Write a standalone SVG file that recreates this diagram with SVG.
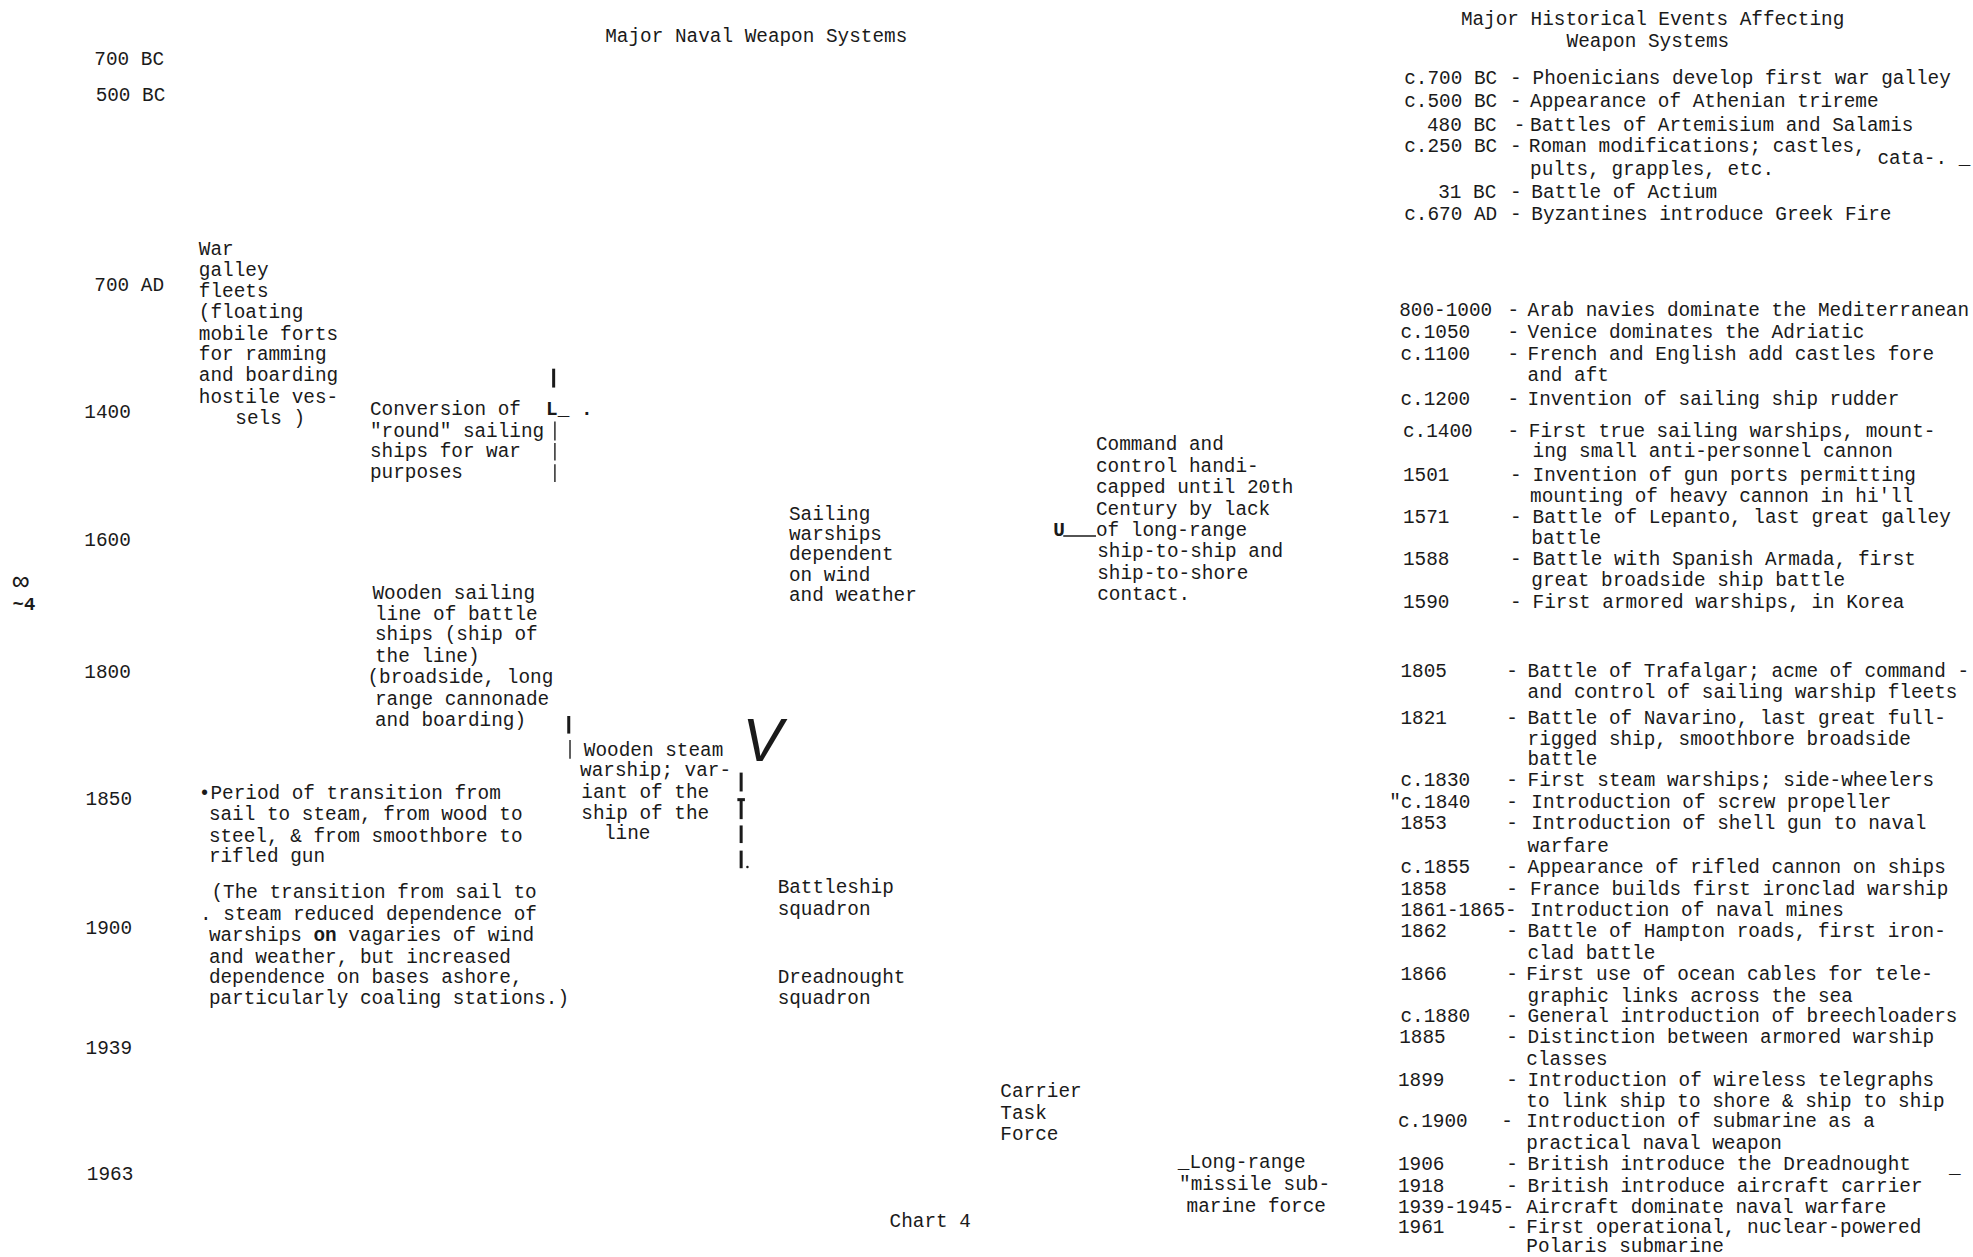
<svg xmlns="http://www.w3.org/2000/svg" width="1973" height="1257" viewBox="0 0 1973 1257">
<style>
text{font-family:"Liberation Mono","Courier New",monospace;font-size:15.4px;fill:#1a1a1a}
.b{font-weight:bold}
.big{font-family:"Liberation Sans",Arial,sans-serif;font-style:italic;font-size:48px}
.ln{stroke:#1a1a1a;stroke-width:1.1;fill:none}
.lb{stroke:#1a1a1a;stroke-width:2.4;fill:none}
</style>
<rect width="1973" height="1257" fill="#fff"/>
<g transform="scale(1.2583)">
<g id="titles">
<text x="481" y="33">Major Naval Weapon Systems</text>
<text x="1161" y="20">Major Historical Events Affecting</text>
<text x="1245" y="37">Weapon Systems</text>
<text x="707" y="975">Chart 4</text>
</g>
<g id="years">
<text x="75" y="52">700 BC</text>
<text x="76" y="80">500 BC</text>
<text x="75" y="231">700 AD</text>
<text x="67" y="332">1400</text>
<text x="67" y="434">1600</text>
<text x="67" y="539">1800</text>
<text x="68" y="640">1850</text>
<text x="68" y="742">1900</text>
<text x="68" y="838">1939</text>
<text x="69" y="938">1963</text>
</g>
<g id="pagemark">
<text x="10" y="469" style="font-size:22px">∞</text>
<text x="10" y="485" style="font-size:15px" class="b">~4</text>
</g>
<g id="galley">
<text x="158" y="203">War</text>
<text x="158" y="219">galley</text>
<text x="158" y="236">fleets</text>
<text x="158" y="253">(floating</text>
<text x="158" y="270">mobile forts</text>
<text x="158" y="286">for ramming</text>
<text x="158" y="303">and boarding</text>
<text x="158" y="320">hostile ves-</text>
<text x="187" y="337">sels )</text>
</g>
<g id="conversion">
<text x="294" y="330">Conversion of</text>
<text x="294" y="347">"round" sailing</text>
<text x="294" y="363">ships for war</text>
<text x="294" y="380">purposes</text>
<text x="434" y="330" class="b">L_ .</text>
</g>
<g id="wooden-sailing">
<text x="296" y="476">Wooden sailing</text>
<text x="298" y="493">line of battle</text>
<text x="298" y="509">ships (ship of</text>
<text x="298" y="526">the line)</text>
<text x="292" y="543">(broadside, long</text>
<text x="298" y="560">range cannonade</text>
<text x="298" y="577">and boarding)</text>
</g>
<g id="wooden-steam">
<text x="464" y="601">Wooden steam</text>
<text x="461" y="617">warship; var-</text>
<text x="462" y="634">iant of the</text>
<text x="462" y="651">ship of the</text>
<text x="480" y="667">line</text>
</g>
<g id="sailing-warships">
<text x="627" y="413">Sailing</text>
<text x="627" y="429">warships</text>
<text x="627" y="445">dependent</text>
<text x="627" y="462">on wind</text>
<text x="627" y="478">and weather</text>
</g>
<g id="command">
<text x="871" y="358">Command and</text>
<text x="871" y="375">control handi-</text>
<text x="871" y="392">capped until 20th</text>
<text x="871" y="409">Century by lack</text>
<text x="871" y="426">of long-range</text>
<text x="872" y="443">ship-to-ship and</text>
<text x="872" y="460">ship-to-shore</text>
<text x="872" y="477">contact.</text>
<text x="837" y="426" class="b">U</text>
</g>
<g id="transition">
<text x="158" y="635">•Period of transition from</text>
<text x="166" y="652">sail to steam, from wood to</text>
<text x="166" y="669">steel, &amp; from smoothbore to</text>
<text x="166" y="685">rifled gun</text>
</g>
<g id="transition-note">
<text x="168" y="714">(The transition from sail to</text>
<text x="159" y="731">. steam reduced dependence of</text>
<text x="166" y="748">warships <tspan class="b">on</tspan> vagaries of wind</text>
<text x="166" y="765">and weather, but increased</text>
<text x="166" y="781">dependence on bases ashore,</text>
<text x="166" y="798">particularly coaling stations.)</text>
</g>
<g id="battleship">
<text x="618" y="710">Battleship</text>
<text x="618" y="727">squadron</text>
</g>
<g id="dreadnought">
<text x="618" y="781">Dreadnought</text>
<text x="618" y="798">squadron</text>
</g>
<g id="carrier">
<text x="795" y="872">Carrier</text>
<text x="795" y="889">Task</text>
<text x="795" y="906">Force</text>
</g>
<g id="missile-sub">
<text x="936" y="928">_Long-range</text>
<text x="937" y="946">"missile sub-</text>
<text x="943" y="963">marine force</text>
</g>
<g id="V-mark">
<text x="590" y="605" class="big">V</text>
</g>
<g id="connectors">
<line class="lb" x1="440" y1="293" x2="440" y2="308"/>
<line class="ln" x1="441" y1="335" x2="441" y2="350"/>
<line class="ln" x1="441" y1="352" x2="441" y2="366"/>
<line class="ln" x1="441" y1="369" x2="441" y2="383"/>
<line class="lb" x1="452" y1="569" x2="452" y2="583"/>
<line class="ln" x1="453" y1="588" x2="453" y2="603"/>
<line class="lb" x1="589" y1="614" x2="589" y2="629"/>
<line class="lb" x1="589" y1="635" x2="589" y2="651"/>
<line class="lb" x1="586" y1="635.5" x2="592" y2="635.5"/>
<line class="lb" x1="589" y1="656" x2="589" y2="670"/>
<line class="lb" x1="589" y1="676" x2="589" y2="690"/>
<circle cx="594" cy="689" r="1" fill="#1a1a1a"/>
<line class="ln" x1="845" y1="426" x2="871" y2="426"/>
</g>
<g id="events">
<text x="1116" y="67">c.700 BC</text><text x="1200" y="67">-</text><text x="1218" y="67">Phoenicians develop first war galley</text>
<text x="1116" y="85">c.500 BC</text><text x="1200" y="85">-</text><text x="1216" y="85">Appearance of Athenian trireme</text>
<text x="1134" y="104">480 BC</text><text x="1203" y="104">-</text><text x="1216" y="104">Battles of Artemisium and Salamis</text>
<text x="1116" y="121">c.250 BC</text><text x="1200" y="121">-</text><text x="1215" y="121">Roman modifications; castles,</text><text x="1492" y="130">cata-. _</text>
<text x="1216" y="139">pults, grapples, etc.</text>
<text x="1143" y="157">31 BC</text><text x="1200" y="157">-</text><text x="1217" y="157">Battle of Actium</text>
<text x="1116" y="175">c.670 AD</text><text x="1200" y="175">-</text><text x="1217" y="175">Byzantines introduce Greek Fire</text>

<text x="1112" y="251">800-1000</text><text x="1198" y="251">-</text><text x="1214" y="251">Arab navies dominate the Mediterranean</text>
<text x="1113" y="269">c.1050</text><text x="1198" y="269">-</text><text x="1214" y="269">Venice dominates the Adriatic</text>
<text x="1113" y="286">c.1100</text><text x="1198" y="286">-</text><text x="1214" y="286">French and English add castles fore</text>
<text x="1214" y="303">and aft</text>
<text x="1113" y="322">c.1200</text><text x="1198" y="322">-</text><text x="1214" y="322">Invention of sailing ship rudder</text>
<text x="1115" y="347">c.1400</text><text x="1198" y="347">-</text><text x="1215" y="347">First true sailing warships, mount-</text>
<text x="1218" y="363">ing small anti-personnel cannon</text>
<text x="1115" y="382">1501</text><text x="1200" y="382">-</text><text x="1218" y="382">Invention of gun ports permitting</text>
<text x="1216" y="399">mounting of heavy cannon in hi'll</text>
<text x="1115" y="416">1571</text><text x="1200" y="416">-</text><text x="1218" y="416">Battle of Lepanto, last great galley</text>
<text x="1217" y="432">battle</text>
<text x="1115" y="449">1588</text><text x="1200" y="449">-</text><text x="1218" y="449">Battle with Spanish Armada, first</text>
<text x="1217" y="466">great broadside ship battle</text>
<text x="1115" y="483">1590</text><text x="1200" y="483">-</text><text x="1218" y="483">First armored warships, in Korea</text>

<text x="1113" y="538">1805</text><text x="1197" y="538">-</text><text x="1214" y="538">Battle of Trafalgar; acme of command -</text>
<text x="1214" y="555">and control of sailing warship fleets</text>
<text x="1113" y="575">1821</text><text x="1197" y="575">-</text><text x="1214" y="575">Battle of Navarino, last great full-</text>
<text x="1214" y="592">rigged ship, smoothbore broadside</text>
<text x="1214" y="608">battle</text>
<text x="1113" y="625">c.1830</text><text x="1197" y="625">-</text><text x="1214" y="625">First steam warships; side-wheelers</text>
<text x="1104" y="642">"c.1840</text><text x="1197" y="642">-</text><text x="1217" y="642">Introduction of screw propeller</text>
<text x="1113" y="659">1853</text><text x="1197" y="659">-</text><text x="1217" y="659">Introduction of shell gun to naval</text>
<text x="1214" y="677">warfare</text>
<text x="1113" y="694">c.1855</text><text x="1197" y="694">-</text><text x="1214" y="694">Appearance of rifled cannon on ships</text>
<text x="1113" y="711">1858</text><text x="1197" y="711">-</text><text x="1216" y="711">France builds first ironclad warship</text>
<text x="1113" y="728">1861-1865-</text><text x="1216" y="728">Introduction of naval mines</text>
<text x="1113" y="745">1862</text><text x="1197" y="745">-</text><text x="1214" y="745">Battle of Hampton roads, first iron-</text>
<text x="1214" y="762">clad battle</text>
<text x="1113" y="779">1866</text><text x="1197" y="779">-</text><text x="1213" y="779">First use of ocean cables for tele-</text>
<text x="1214" y="796">graphic links across the sea</text>
<text x="1113" y="812">c.1880</text><text x="1197" y="812">-</text><text x="1214" y="812">General introduction of breechloaders</text>
<text x="1112" y="829">1885</text><text x="1197" y="829">-</text><text x="1214" y="829">Distinction between armored warship</text>
<text x="1213" y="846">classes</text>
<text x="1111" y="863">1899</text><text x="1197" y="863">-</text><text x="1214" y="863">Introduction of wireless telegraphs</text>
<text x="1213" y="880">to link ship to shore &amp; ship to ship</text>
<text x="1111" y="896">c.1900</text><text x="1193" y="896">-</text><text x="1213" y="896">Introduction of submarine as a</text>
<text x="1213" y="913">practical naval weapon</text>
<text x="1111" y="930">1906</text><text x="1197" y="930">-</text><text x="1214" y="930">British introduce the Dreadnought</text><text x="1549" y="932">_</text>
<text x="1111" y="947">1918</text><text x="1197" y="947">-</text><text x="1214" y="947">British introduce aircraft carrier</text>
<text x="1111" y="964">1939-1945-</text><text x="1213" y="964">Aircraft dominate naval warfare</text>
<text x="1111" y="980">1961</text><text x="1197" y="980">-</text><text x="1213" y="980">First operational, nuclear-powered</text>
<text x="1213" y="995">Polaris submarine</text>
</g>
</g>
</svg>
